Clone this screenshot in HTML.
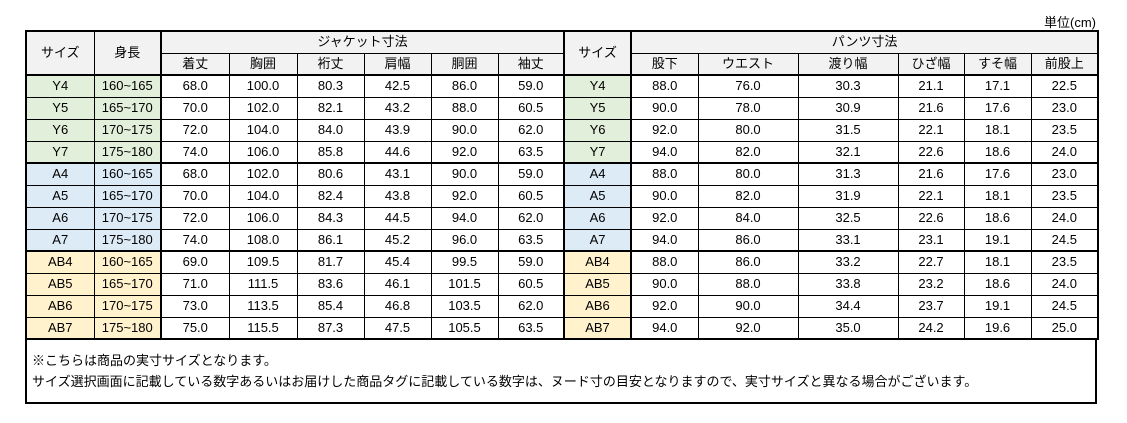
<!DOCTYPE html>
<html><head><meta charset="utf-8"><style>
body{margin:0;background:#fff;font-family:"Liberation Sans","Noto Sans CJK JP",sans-serif;font-size:13px;color:#000;}
.unit{position:absolute;left:1030px;top:12px;width:66px;text-align:right;font-size:13px;}
table{position:absolute;left:25px;top:30px;border-collapse:collapse;table-layout:fixed;width:1072px;border:2px solid #000;}
tr{height:22px;}
td{border:1px solid #000;text-align:center;padding:0;height:20px;line-height:18px;white-space:nowrap;overflow:hidden;}
.h{background:#f2f2f2;}
.g td{background:#e2efda;}
.b td{background:#ddebf7;}
.o td{background:#fff2cc;}
tr td.w{background:#fff;}
.tb td{border-top:2px solid #000;}
td.L{border-left:2px solid #000;}
td.R{border-right:2px solid #000;}
.note{position:absolute;left:25px;top:338px;width:1068px;height:64px;border:2px solid #000;border-top:0;padding:0;}
.note div{position:absolute;left:5px;font-size:13px;}
</style></head><body>
<div class="unit">単位(cm)</div>
<table>
<colgroup><col style="width:68px"><col style="width:67px"><col style="width:68px"><col style="width:68px"><col style="width:67px"><col style="width:67px"><col style="width:67px"><col style="width:66px"><col style="width:67px"><col style="width:67px"><col style="width:100px"><col style="width:100px"><col style="width:66px"><col style="width:67px"><col style="width:67px"></colgroup>
<tr><td class="h" rowspan="2">サイズ</td><td class="h R" rowspan="2">身長</td><td class="h" colspan="6">ジャケット寸法</td><td class="h L R" rowspan="2">サイズ</td><td class="h" colspan="6">パンツ寸法</td></tr>
<tr><td class="h">着丈</td><td class="h">胸囲</td><td class="h">裄丈</td><td class="h">肩幅</td><td class="h">胴囲</td><td class="h">袖丈</td><td class="h">股下</td><td class="h">ウエスト</td><td class="h">渡り幅</td><td class="h">ひざ幅</td><td class="h">すそ幅</td><td class="h">前股上</td></tr>
<tr class="g tb"><td>Y4</td><td class="R">160~165</td><td class="w">68.0</td><td class="w">100.0</td><td class="w">80.3</td><td class="w">42.5</td><td class="w">86.0</td><td class="w">59.0</td><td class="L R">Y4</td><td class="w">88.0</td><td class="w">76.0</td><td class="w">30.3</td><td class="w">21.1</td><td class="w">17.1</td><td class="w">22.5</td></tr>
<tr class="g"><td>Y5</td><td class="R">165~170</td><td class="w">70.0</td><td class="w">102.0</td><td class="w">82.1</td><td class="w">43.2</td><td class="w">88.0</td><td class="w">60.5</td><td class="L R">Y5</td><td class="w">90.0</td><td class="w">78.0</td><td class="w">30.9</td><td class="w">21.6</td><td class="w">17.6</td><td class="w">23.0</td></tr>
<tr class="g"><td>Y6</td><td class="R">170~175</td><td class="w">72.0</td><td class="w">104.0</td><td class="w">84.0</td><td class="w">43.9</td><td class="w">90.0</td><td class="w">62.0</td><td class="L R">Y6</td><td class="w">92.0</td><td class="w">80.0</td><td class="w">31.5</td><td class="w">22.1</td><td class="w">18.1</td><td class="w">23.5</td></tr>
<tr class="g"><td>Y7</td><td class="R">175~180</td><td class="w">74.0</td><td class="w">106.0</td><td class="w">85.8</td><td class="w">44.6</td><td class="w">92.0</td><td class="w">63.5</td><td class="L R">Y7</td><td class="w">94.0</td><td class="w">82.0</td><td class="w">32.1</td><td class="w">22.6</td><td class="w">18.6</td><td class="w">24.0</td></tr>
<tr class="b tb"><td>A4</td><td class="R">160~165</td><td class="w">68.0</td><td class="w">102.0</td><td class="w">80.6</td><td class="w">43.1</td><td class="w">90.0</td><td class="w">59.0</td><td class="L R">A4</td><td class="w">88.0</td><td class="w">80.0</td><td class="w">31.3</td><td class="w">21.6</td><td class="w">17.6</td><td class="w">23.0</td></tr>
<tr class="b"><td>A5</td><td class="R">165~170</td><td class="w">70.0</td><td class="w">104.0</td><td class="w">82.4</td><td class="w">43.8</td><td class="w">92.0</td><td class="w">60.5</td><td class="L R">A5</td><td class="w">90.0</td><td class="w">82.0</td><td class="w">31.9</td><td class="w">22.1</td><td class="w">18.1</td><td class="w">23.5</td></tr>
<tr class="b"><td>A6</td><td class="R">170~175</td><td class="w">72.0</td><td class="w">106.0</td><td class="w">84.3</td><td class="w">44.5</td><td class="w">94.0</td><td class="w">62.0</td><td class="L R">A6</td><td class="w">92.0</td><td class="w">84.0</td><td class="w">32.5</td><td class="w">22.6</td><td class="w">18.6</td><td class="w">24.0</td></tr>
<tr class="b"><td>A7</td><td class="R">175~180</td><td class="w">74.0</td><td class="w">108.0</td><td class="w">86.1</td><td class="w">45.2</td><td class="w">96.0</td><td class="w">63.5</td><td class="L R">A7</td><td class="w">94.0</td><td class="w">86.0</td><td class="w">33.1</td><td class="w">23.1</td><td class="w">19.1</td><td class="w">24.5</td></tr>
<tr class="o tb"><td>AB4</td><td class="R">160~165</td><td class="w">69.0</td><td class="w">109.5</td><td class="w">81.7</td><td class="w">45.4</td><td class="w">99.5</td><td class="w">59.0</td><td class="L R">AB4</td><td class="w">88.0</td><td class="w">86.0</td><td class="w">33.2</td><td class="w">22.7</td><td class="w">18.1</td><td class="w">23.5</td></tr>
<tr class="o"><td>AB5</td><td class="R">165~170</td><td class="w">71.0</td><td class="w">111.5</td><td class="w">83.6</td><td class="w">46.1</td><td class="w">101.5</td><td class="w">60.5</td><td class="L R">AB5</td><td class="w">90.0</td><td class="w">88.0</td><td class="w">33.8</td><td class="w">23.2</td><td class="w">18.6</td><td class="w">24.0</td></tr>
<tr class="o"><td>AB6</td><td class="R">170~175</td><td class="w">73.0</td><td class="w">113.5</td><td class="w">85.4</td><td class="w">46.8</td><td class="w">103.5</td><td class="w">62.0</td><td class="L R">AB6</td><td class="w">92.0</td><td class="w">90.0</td><td class="w">34.4</td><td class="w">23.7</td><td class="w">19.1</td><td class="w">24.5</td></tr>
<tr class="o"><td>AB7</td><td class="R">175~180</td><td class="w">75.0</td><td class="w">115.5</td><td class="w">87.3</td><td class="w">47.5</td><td class="w">105.5</td><td class="w">63.5</td><td class="L R">AB7</td><td class="w">94.0</td><td class="w">92.0</td><td class="w">35.0</td><td class="w">24.2</td><td class="w">19.6</td><td class="w">25.0</td></tr>
</table>
<div class="note">
<div style="top:12px">※こちらは商品の実寸サイズとなります。</div>
<div style="top:33px">サイズ選択画面に記載している数字あるいはお届けした商品タグに記載している数字は、ヌード寸の目安となりますので、実寸サイズと異なる場合がございます。</div>
</div>
</body></html>
